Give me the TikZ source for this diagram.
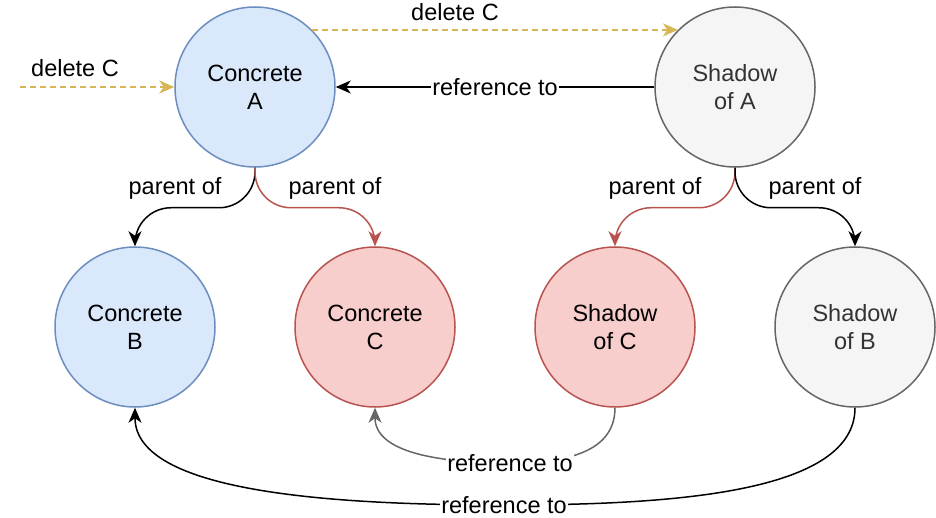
\documentclass[tikz,border=0pt]{standalone}
\usepackage{fontspec}
\setmainfont{Liberation Sans}
\usetikzlibrary{arrows.meta}

\definecolor{blueFill}{HTML}{DAE8FC}
\definecolor{blueLine}{HTML}{6C8EBF}
\definecolor{redFill}{HTML}{F8CECC}
\definecolor{redLine}{HTML}{B85450}
\definecolor{grayFill}{HTML}{F5F5F5}
\definecolor{grayLine}{HTML}{666666}
\definecolor{grayText}{HTML}{333333}
\definecolor{goldLine}{HTML}{D6B656}

\tikzset{
  obj/.style={circle, draw, line width=1.5pt, minimum size=160pt, inner sep=0pt,
    align=center, font=\fontsize{23.5}{28}\selectfont},
  concrete/.style={obj, fill=blueFill, draw=blueLine},
  removed/.style={obj, fill=redFill, draw=redLine},
  shadow/.style={obj, fill=grayFill, draw=grayLine, text=grayText},
  lbl/.style={font=\fontsize{23.5}{28}\selectfont, inner sep=1pt},
  link/.style={line width=1.5pt, -{Stealth[length=15pt,width=13pt,inset=4.5pt]}},
  parentof/.style={link, rounded corners=36pt},
  delC/.style={link, draw=goldLine, dash pattern=on 6pt off 4pt},
}

\begin{document}
\begin{tikzpicture}[x=1pt, y=-1pt]
    \useasboundingbox (0,0) rectangle (936,518);

    % objects
    \node[concrete] (cA) at (255,87) {Concrete\\A};
    \node[shadow]   (sA) at (735,87) {Shadow\\of A};
    \node[concrete] (cB) at (135,327) {Concrete\\B};
    \node[removed]  (cC) at (375,327) {Concrete\\C};
    \node[removed]  (sC) at (615,327) {Shadow\\of C};
    \node[shadow]   (sB) at (855,327) {Shadow\\of B};

    % delete C
    \coordinate (delIn) at (20,87);
    \draw[delC] (delIn) -- (cA.west);
    \node[lbl] (delInLbl) at (75,68) {delete C};
    \draw[delC] (cA.45) -- (sA.135);
    \node[lbl] (delTopLbl) at (455,12) {delete C};

    % reference to
    \draw[link] (sA.west) -- (cA.east)
      node[lbl, midway, fill=white] (refA) {reference to};

    % parent of
    \draw[parentof] (cA.south) -- ++(0,40) -| (cB.north);
    \draw[parentof, draw=redLine] (cA.south) -- ++(0,40) -| (cC.north);
    \draw[parentof, draw=redLine] (sA.south) -- ++(0,40) -| (sC.north);
    \draw[parentof] (sA.south) -- ++(0,40) -| (sB.north);
    \node[lbl] (pAB) at (175,188) {parent of};
    \node[lbl] (pAC) at (335,188) {parent of};
    \node[lbl] (pSC) at (655,188) {parent of};
    \node[lbl] (pSB) at (815,188) {parent of};

    % shadows refer to concretes
    \coordinate (refCmid) at (510,463);
    \draw[link, draw=grayLine] (sC.south) .. controls +(0,45) and +(55,0) .. (refCmid)
      .. controls +(-70,0) and +(0,45) .. (cC.south);
    \node[lbl, fill=white] (refC) at (refCmid) {reference to};

    \coordinate (refBmid) at (504,505);
    \draw[link] (sB.south) .. controls +(0,85) and +(170,0) .. (refBmid)
      .. controls +(-170,0) and +(0,85) .. (cB.south);
    \node[lbl, fill=white] (refB) at (refBmid) {reference to};
  \end{tikzpicture}
\end{document}
